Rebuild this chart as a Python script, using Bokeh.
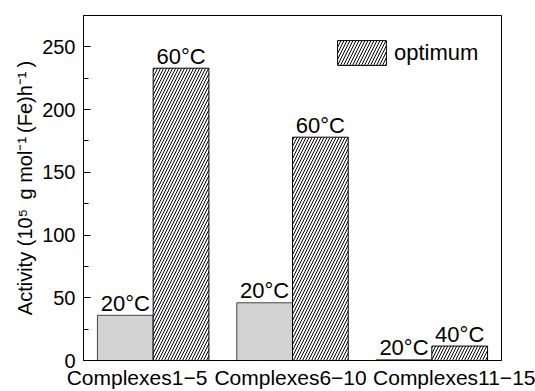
from bokeh.plotting import figure
from bokeh.models import FixedTicker, Range1d, ColumnDataSource
from bokeh.core.properties import value
from bokeh.embed import file_html
from bokeh.resources import INLINE

# ---- data ----
categories = ["Complexes1\u22125", "Complexes6\u221210", "Complexes11\u221215"]
activity_20 = [36, 46, 0.6]
activity_opt = [233, 178, 11.5]
temp_20 = ["20\u00b0C", "20\u00b0C", "20\u00b0C"]
temp_opt = ["60\u00b0C", "60\u00b0C", "40\u00b0C"]
y_ticks = [0, 50, 100, 150, 200, 250]

FONT = "Liberation Sans"
n = len(categories)
centers = [i + 0.5 for i in range(n)]
bw = 0.4
x20 = [c - bw / 2 for c in centers]
xopt = [c + bw / 2 for c in centers]

src = ColumnDataSource(dict(x20=x20, xopt=xopt, a20=activity_20, aopt=activity_opt,
                            t20=temp_20, topt=temp_opt))

p = figure(width=535, height=391, x_range=Range1d(0, n), y_range=Range1d(0, 275),
           output_backend="svg", toolbar_location=None,
           min_border_left=83, min_border_right=34, min_border_top=15, min_border_bottom=31)

p.xgrid.visible = False
p.ygrid.visible = False
p.outline_line_color = "black"
p.outline_line_width = 1
p.background_fill_color = "white"
p.border_fill_color = "white"

p.vbar(x="x20", top="a20", width=bw, bottom=0, source=src,
       fill_color="#d3d3d3", line_color="#444444", line_width=1)
p.vbar(x="xopt", top="aopt", width=bw, bottom=0, source=src,
       fill_color="white", line_color="black", line_width=1,
       hatch_pattern="/", hatch_color="black", hatch_scale=6, hatch_weight=1,
       legend_label="optimum")

p.text(x="x20", y="a20", text="t20", source=src, text_align="center",
       text_baseline="alphabetic", y_offset=-12, text_font=value(FONT),
       text_font_size="22px", text_color="black")
p.text(x="xopt", y="aopt", text="topt", source=src, text_align="center",
       text_baseline="alphabetic", y_offset=-12, text_font=value(FONT),
       text_font_size="22px", text_color="black")

# x axis: labels only
label_pos = [0.384, 1.486, 2.667]
p.xaxis.ticker = FixedTicker(ticks=label_pos)
p.xaxis.major_label_overrides = {label_pos[i]: categories[i] for i in range(n)}
p.xaxis.major_tick_line_color = None
p.xaxis.minor_tick_line_color = None
p.xaxis.major_tick_in = 0
p.xaxis.major_tick_out = 0
p.xaxis.minor_tick_in = 0
p.xaxis.minor_tick_out = 0
p.xaxis.major_label_text_font = FONT
p.xaxis.major_label_text_font_size = "21px"
p.xaxis.major_label_text_color = "black"
p.xaxis.major_label_standoff = 5
p.xaxis.axis_line_color = "black"

# y axis
p.yaxis.ticker = FixedTicker(ticks=y_ticks, minor_ticks=[25, 75, 125, 175, 225, 275])
p.yaxis.major_tick_in = 7
p.yaxis.major_tick_out = 0
p.yaxis.minor_tick_in = 5
p.yaxis.minor_tick_out = 0
p.yaxis.major_tick_line_color = "black"
p.yaxis.minor_tick_line_color = "black"
p.yaxis.axis_line_color = "black"
p.yaxis.major_label_text_font = FONT
p.yaxis.major_label_text_font_size = "20px"
p.yaxis.major_label_text_color = "black"
p.yaxis.major_label_standoff = 8
p.yaxis.axis_label = "Activity (10\u2075\u2009 g mol\u207b\u00b9\u2009(Fe)h\u207b\u00b9\u2009)"
p.yaxis.axis_label_text_font = FONT
p.yaxis.axis_label_text_font_size = "20px"
p.yaxis.axis_label_text_font_style = "normal"
p.yaxis.axis_label_text_color = "black"
p.yaxis.axis_label_standoff = 3

lg = p.legend[0]
lg.location = (248, 292)
lg.padding = 0
lg.margin = 0
lg.spacing = 0
lg.glyph_width = 61
lg.glyph_height = 31
lg.label_height = 31
lg.label_standoff = 2
lg.label_text_font = FONT
lg.label_text_font_size = "22px"
lg.label_text_color = "black"
lg.label_text_baseline = "middle"
lg.border_line_color = None
lg.background_fill_alpha = 0

open("out.html", "w").write(file_html(p, INLINE))
